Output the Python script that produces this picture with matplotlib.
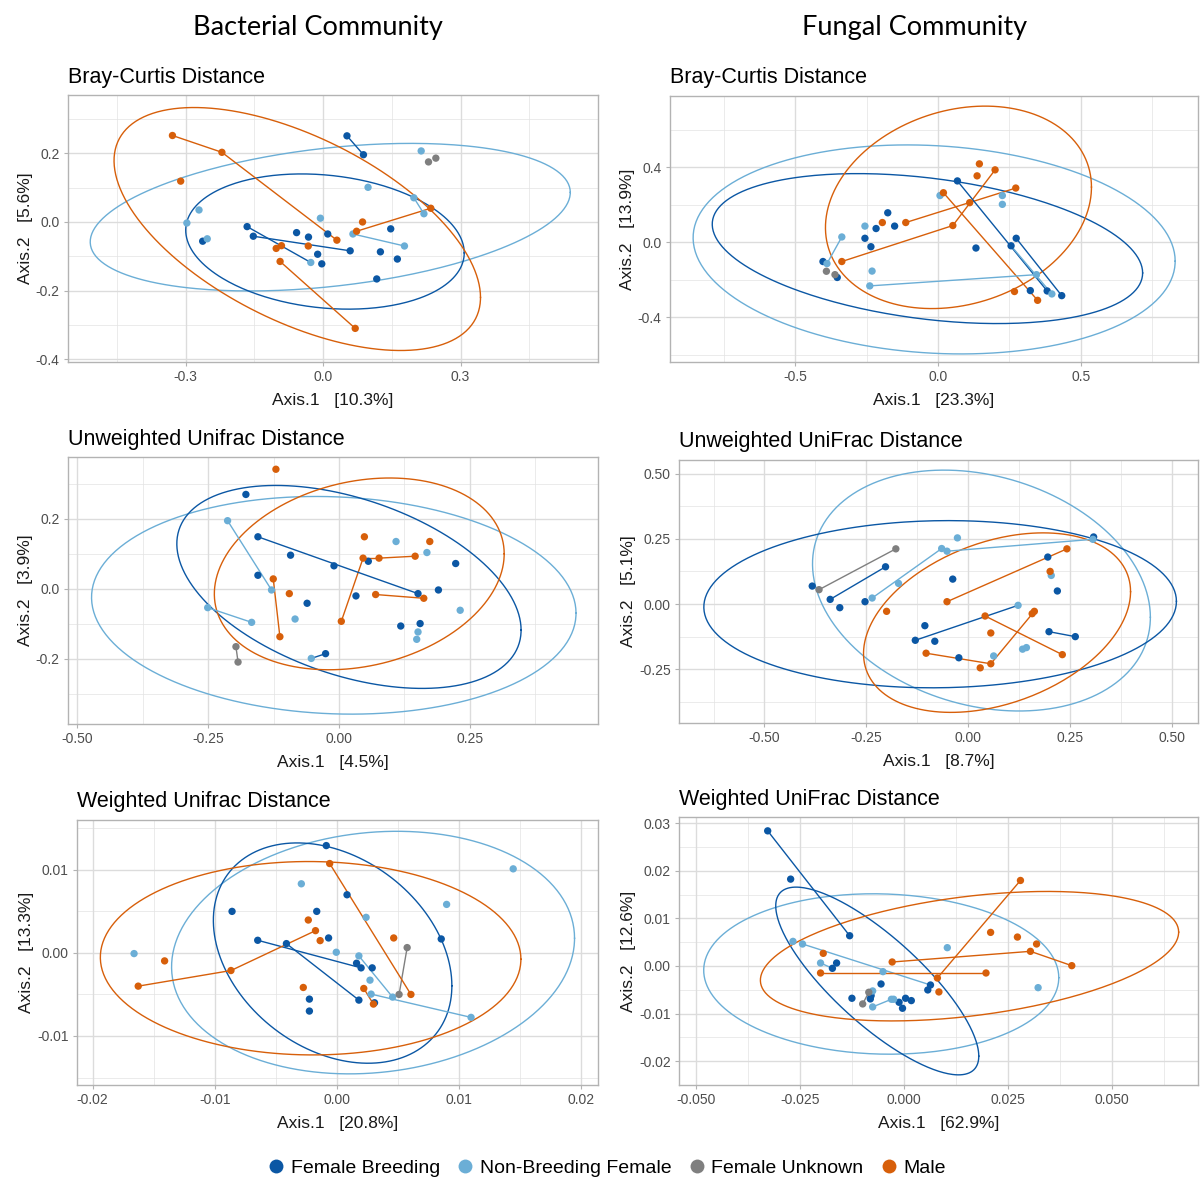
import numpy as np
import matplotlib
matplotlib.use("Agg")
import matplotlib.pyplot as plt
from matplotlib.lines import Line2D

plt.rcParams['font.family'] = ['Liberation Sans', 'DejaVu Sans']

# 颜色
colors = {"FB": "#0b57a4", "NB": "#6baed6", "FU": "#7f7f7f", "M": "#d75f0a"}
legend_labels = ["Female Breeding", "Non-Breeding Female", "Female Unknown", "Male"]

# ---------------- Bacterial / Bray-Curtis ----------------
bac_bray_fb = [(0.052, 0.251), (0.088, 0.196), (0.1475, -0.020), (0.010, -0.035), (-0.058, -0.031),
               (-0.032, -0.044), (-0.166, -0.0135), (-0.1525, -0.0415), (0.059, -0.084), (-0.012, -0.094),
               (-0.003, -0.122), (0.125, -0.087), (0.162, -0.108), (0.117, -0.166), (-0.263, -0.056)]
bac_bray_nb = [(0.214, 0.207), (0.098, 0.101), (0.198, 0.0705), (0.22, 0.024), (-0.006, 0.011),
               (-0.271, 0.035), (-0.2975, -0.003), (-0.253, -0.049), (0.065, -0.035), (0.1775, -0.070),
               (-0.027, -0.118)]
bac_bray_fu = [(0.23, 0.175), (0.246, 0.186)]
bac_bray_m = [(-0.329, 0.252), (-0.221, 0.203), (-0.311, 0.119), (0.086, 0.0), (0.073, -0.027),
              (0.235, 0.040), (0.030, -0.053), (-0.0325, -0.070), (-0.091, -0.069), (-0.1025, -0.077),
              (-0.094, -0.115), (0.070, -0.310)]
bac_bray_seg = [("M", 0, "M", 1, "M"), ("M", 1, "M", 6, "M"), ("M", 10, "M", 11, "M"), ("M", 4, "M", 5, "M"),
                ("M", 9, "M", 8, "M"), ("FB", 0, "FB", 1, "FB"), ("FB", 7, "FB", 8, "FB"),
                ("FB", 6, "NB", 10, "FB"), ("NB", 8, "NB", 9, "NB"), ("NB", 2, "NB", 3, "NB")]
# 椭圆: 组, 中心x, 中心y, 半宽, 半高, 相关系数
bac_bray_ell = [("NB", 0.0155, 0.014, 0.524, 0.215, 0.335), ("FB", 0.004, -0.057, 0.304, 0.197, -0.168),
                ("M", -0.0565, -0.0205, 0.400, 0.354, -0.563)]

# ---------------- Fungal / Bray-Curtis ----------------
fun_bray_fb = [(0.068, 0.326), (-0.176, 0.156), (-0.152, 0.085), (-0.217, 0.072), (-0.256, 0.020),
               (-0.235, -0.025), (0.133, -0.032), (0.256, -0.020), (0.274, 0.020), (-0.403, -0.104),
               (-0.353, -0.189), (0.3235, -0.259), (0.3825, -0.261), (0.4335, -0.286)]
fun_bray_nb = [(0.007, 0.248), (0.2255, 0.248), (0.2255, 0.201), (-0.256, 0.085), (-0.337, 0.027),
               (-0.389, -0.115), (-0.231, -0.155), (-0.239, -0.234), (0.399, -0.277), (0.345, -0.174)]
fun_bray_fu = [(-0.391, -0.156), (-0.361, -0.174)]
fun_bray_m = [(0.145, 0.417), (0.200, 0.385), (0.137, 0.353), (0.2725, 0.288), (0.019, 0.263),
              (0.111, 0.210), (0.052, 0.088), (-0.195, 0.104), (-0.113, 0.104), (-0.337, -0.104),
              (0.268, -0.264), (0.349, -0.311)]
fun_bray_seg = [("M", 9, "M", 6, "M"), ("M", 6, "M", 1, "M"), ("M", 8, "M", 3, "M"), ("M", 4, "M", 11, "M"),
                ("FB", 0, "FB", 12, "FB"), ("FB", 7, "NB", 8, "NB"), ("FB", 8, "FB", 13, "FB"),
                ("NB", 4, "NB", 5, "NB"), ("NB", 7, "NB", 9, "NB")]
fun_bray_ell = [("NB", -0.0135, -0.0395, 0.8445, 0.5575, -0.112), ("FB", -0.037, -0.035, 0.754, 0.400, -0.325),
                ("M", 0.0717, 0.185, 0.466, 0.540, 0.20)]

# ---------------- Bacterial / Unweighted UniFrac ----------------
bac_unw_fb = [(-0.178, 0.270), (-0.155, 0.149), (-0.0926, 0.0964), (-0.0096, 0.066), (0.056, 0.079),
              (0.223, 0.0726), (-0.155, 0.039), (0.190, -0.003), (0.151, -0.0134), (0.0324, -0.020),
              (-0.061, -0.041), (0.118, -0.106), (0.155, -0.099), (-0.0257, -0.185)]
bac_unw_nb = [(-0.213, 0.195), (0.109, 0.1355), (0.168, 0.104), (-0.129, -0.003), (-0.251, -0.0535),
              (-0.167, -0.0955), (-0.084, -0.086), (0.2316, -0.061), (0.151, -0.123), (0.1485, -0.144),
              (-0.053, -0.1986)]
bac_unw_fu = [(-0.197, -0.165), (-0.193, -0.209)]
bac_unw_m = [(-0.1206, 0.342), (0.0485, 0.149), (0.1735, 0.1355), (0.046, 0.088), (0.0765, 0.088),
             (0.1455, 0.0935), (-0.1257, 0.0286), (-0.095, -0.0134), (0.070, -0.016), (0.162, -0.0267),
             (0.0044, -0.0926), (-0.113, -0.1365)]
bac_unw_seg = [("M", 6, "M", 11, "M"), ("M", 10, "M", 3, "M"), ("M", 3, "M", 4, "M"), ("M", 4, "M", 5, "M"),
               ("M", 8, "M", 9, "M"), ("FB", 1, "FB", 8, "FB"), ("FB", 13, "NB", 10, "FB"),
               ("NB", 0, "NB", 3, "NB"), ("NB", 4, "NB", 5, "NB"), ("FU", 0, "FU", 1, "FU")]
bac_unw_ell = [("NB", -0.010, -0.0468, 0.463, 0.311, -0.073), ("FB", 0.019, 0.0057, 0.329, 0.290, -0.425),
               ("M", 0.0387, 0.043, 0.277, 0.274, 0.209)]

# ---------------- Fungal / Unweighted UniFrac ----------------
fun_unw_fb = [(0.3086, 0.257), (0.196, 0.180), (0.2195, 0.050), (-0.0375, 0.0955), (-0.2026, 0.1427),
              (-0.3827, 0.0688), (-0.3386, 0.0178), (-0.315, -0.014), (-0.253, 0.009), (-0.106, -0.083),
              (-0.1295, -0.139), (-0.0816, -0.1427), (-0.0225, -0.206), (0.199, -0.106), (0.2636, -0.125)]
fun_unw_nb = [(-0.026, 0.2535), (-0.0647, 0.2127), (-0.0516, 0.2025), (-0.1707, 0.079), (-0.2355, 0.023),
              (0.2045, 0.1096), (0.123, -0.005), (0.134, -0.173), (0.1435, -0.167), (0.063, -0.199),
              (0.3068, 0.248)]
fun_unw_fu = [(-0.1773, 0.2115), (-0.366, 0.055)]
fun_unw_m = [(0.243, 0.2115), (-0.0516, 0.009), (0.2017, 0.125), (-0.200, -0.028), (0.163, -0.028),
             (0.1576, -0.037), (0.042, -0.0459), (0.056, -0.111), (0.2317, -0.194), (-0.103, -0.1885),
             (0.056, -0.229), (0.030, -0.2446)]
fun_unw_seg = [("FB", 6, "FB", 4, "FB"), ("FB", 10, "NB", 6, "FB"), ("FB", 13, "FB", 14, "FB"),
               ("NB", 4, "NB", 1, "NB"), ("NB", 2, "NB", 10, "NB"), ("FU", 0, "FU", 1, "FU"),
               ("M", 1, "M", 0, "M"), ("M", 6, "M", 8, "M"), ("M", 9, "M", 10, "M"), ("M", 10, "M", 4, "M")]
fun_unw_ell = [("NB", 0.033, 0.0516, 0.415, 0.4616, -0.222), ("FB", -0.0685, -0.0007, 0.5805, 0.3204, 0.034),
               ("M", 0.0713, -0.0713, 0.328, 0.344, 0.345)]

# ---------------- Bacterial / Weighted UniFrac ----------------
bac_w_fb = [(-0.00088, 0.01292), (0.00082, 0.0070), (-0.00859, 0.0050), (-0.00166, 0.0050), (-0.00069, 0.0018),
            (0.00853, 0.00168), (-0.00649, 0.00152), (-0.00414, 0.00112), (0.0016, -0.00124), (0.00197, -0.0018),
            (0.00288, -0.0018), (0.00179, -0.00568), (0.00307, -0.006), (-0.00226, -0.00556), (-0.00226, -0.0070)]
bac_w_nb = [(0.01442, 0.01012), (-0.00292, 0.00832), (0.00897, 0.00584), (0.00238, 0.00428), (-0.00006, 0.00008),
            (-0.01661, -0.00008), (0.00179, -0.00036), (0.0027, -0.00328), (0.00279, -0.00496), (0.00455, -0.00532),
            (0.01097, -0.00776)]
bac_w_fu = [(0.00574, 0.00064), (0.00508, -0.005)]
bac_w_m = [(-0.0006, 0.01076), (-0.00235, 0.00396), (-0.00176, 0.00268), (-0.00138, 0.00148), (0.00464, 0.0018),
           (-0.01411, -0.00096), (-0.00868, -0.00212), (-0.01627, -0.004), (-0.00276, -0.00416), (0.00219, -0.00428),
           (0.00298, -0.00616), (0.00605, -0.005)]
bac_w_seg = [("FB", 6, "FB", 9, "FB"), ("FB", 7, "FB", 11, "FB"), ("NB", 6, "NB", 9, "NB"), ("NB", 8, "NB", 10, "NB"),
             ("FU", 0, "FU", 1, "FU"), ("M", 0, "M", 11, "M"), ("M", 7, "M", 6, "M"), ("M", 6, "M", 2, "M"),
             ("M", 9, "M", 10, "M")]
bac_w_ell = [("NB", 0.00295, 0.00004, 0.01649, 0.0146, 0.118), ("FB", -0.00036, -0.00002, 0.00976, 0.01326, -0.297),
             ("M", -0.00216, -0.00064, 0.01721, 0.01164, -0.01)]

# ---------------- Fungal / Weighted UniFrac ----------------
fun_w_fb = [(-0.03284, 0.02839), (-0.02731, 0.01825), (-0.0131, 0.00636), (-0.01624, 0.00063), (-0.01725, -0.00049),
            (-0.00554, -0.00378), (0.00637, -0.00399), (0.00572, -0.00503), (-0.01255, -0.00678), (-0.00793, -0.00622),
            (-0.00812, -0.00692), (-0.0012, -0.00762), (0.00037, -0.00678), (0.00175, -0.00727), (-0.00037, -0.00888)]
fun_w_nb = [(0.01042, 0.00385), (-0.02675, 0.00517), (-0.02445, 0.00462), (-0.02011, 0.00063), (-0.00507, -0.00119),
            (0.03229, -0.00455), (-0.00756, -0.00524), (-0.00304, -0.00699), (-0.00756, -0.0086), (-0.0025, -0.00699)]
fun_w_fu = [(-0.00849, -0.00552), (-0.00996, -0.00797)]
fun_w_m = [(0.02804, 0.01797), (0.02085, 0.00706), (0.02731, 0.00608), (0.03192, 0.00462), (0.03044, 0.00308),
           (0.0404, 0.00007), (-0.01946, 0.00266), (-0.00286, 0.00084), (-0.02011, -0.00147), (0.01974, -0.00147),
           (0.00803, -0.00252), (0.0084, -0.00545)]
fun_w_seg = [("FB", 0, "FB", 2, "FB"), ("NB", 2, "FB", 6, "NB"), ("NB", 3, "FB", 4, "NB"), ("NB", 8, "NB", 7, "NB"),
             ("FU", 0, "FU", 1, "FU"), ("M", 10, "M", 0, "M"), ("M", 7, "M", 4, "M"), ("M", 4, "M", 5, "M"),
             ("M", 8, "M", 9, "M")]
fun_w_ell = [("NB", -0.00549, -0.00168, 0.04276, 0.01685, -0.046), ("FB", -0.00645, -0.00315, 0.02445, 0.01972, -0.80),
             ("M", 0.01577, 0.00206, 0.05037, 0.0136, 0.372)]

# 坐标轴刻度
bac_bray_xt = [-0.3, 0.0, 0.3]; bac_bray_xl = ["-0.3", "0.0", "0.3"]
bac_bray_yt = [-0.4, -0.2, 0.0, 0.2]; bac_bray_yl = ["-0.4", "-0.2", "0.0", "0.2"]
fun_bray_xt = [-0.5, 0.0, 0.5]; fun_bray_xl = ["-0.5", "0.0", "0.5"]
fun_bray_yt = [-0.4, 0.0, 0.4]; fun_bray_yl = ["-0.4", "0.0", "0.4"]
bac_unw_xt = [-0.5, -0.25, 0.0, 0.25]; bac_unw_xl = ["-0.50", "-0.25", "0.00", "0.25"]
bac_unw_yt = [-0.2, 0.0, 0.2]; bac_unw_yl = ["-0.2", "0.0", "0.2"]
fun_unw_xt = [-0.5, -0.25, 0.0, 0.25, 0.5]; fun_unw_xl = ["-0.50", "-0.25", "0.00", "0.25", "0.50"]
fun_unw_yt = [-0.25, 0.0, 0.25, 0.5]; fun_unw_yl = ["-0.25", "0.00", "0.25", "0.50"]
bac_w_xt = [-0.02, -0.01, 0.0, 0.01, 0.02]; bac_w_xl = ["-0.02", "-0.01", "0.00", "0.01", "0.02"]
bac_w_yt = [-0.01, 0.0, 0.01]; bac_w_yl = ["-0.01", "0.00", "0.01"]
fun_w_xt = [-0.05, -0.025, 0.0, 0.025, 0.05]; fun_w_xl = ["-0.050", "-0.025", "0.000", "0.025", "0.050"]
fun_w_yt = [-0.02, -0.01, 0.0, 0.01, 0.02, 0.03]; fun_w_yl = ["-0.02", "-0.01", "0.00", "0.01", "0.02", "0.03"]

W, H = 1200, 1178
fig = plt.figure(figsize=(W / 100, H / 100), dpi=100)


def panel(box, pts, segs, ells, xlim, ylim, xt, xl, yt, yl, title, xlab, ylab):
    l, t, r, b = box
    ax = fig.add_axes([l / W, 1 - b / H, (r - l) / W, (b - t) / H])
    ax.set_xlim(xlim)
    ax.set_ylim(ylim)
    # 网格 (主 + 次)
    dx = xt[1] - xt[0]
    dy = yt[1] - yt[0]
    xminor = np.arange(xt[0] - 2.5 * dx, xt[-1] + 2.5 * dx, dx)
    yminor = np.arange(yt[0] - 2.5 * dy, yt[-1] + 2.5 * dy, dy)
    for v in xminor:
        ax.axvline(v, color="#e3e3e3", lw=0.5, zorder=0)
    for v in yminor:
        ax.axhline(v, color="#e3e3e3", lw=0.5, zorder=0)
    for v in xt:
        ax.axvline(v, color="#dcdcdc", lw=1.0, zorder=0)
    for v in yt:
        ax.axhline(v, color="#dcdcdc", lw=1.0, zorder=0)
    # 椭圆
    tt = np.linspace(0, 2 * np.pi, 300)
    for g, cx, cy, a, bb, rho in ells:
        ex = cx + a * np.cos(tt)
        ey = cy + bb * (rho * np.cos(tt) + np.sqrt(1 - rho ** 2) * np.sin(tt))
        ax.plot(ex, ey, color=colors[g], lw=1.0, zorder=2)
    # 连线
    for g1, i1, g2, i2, gc in segs:
        p1 = pts[g1][i1]
        p2 = pts[g2][i2]
        ax.plot([p1[0], p2[0]], [p1[1], p2[1]], color=colors[gc], lw=1.0, zorder=3)
    # 点
    for g in ["FB", "NB", "FU", "M"]:
        arr = np.array(pts[g])
        ax.scatter(arr[:, 0], arr[:, 1], s=28, color=colors[g], edgecolors="none", zorder=4)
    ax.set_xticks(xt)
    ax.set_xticklabels(xl)
    ax.set_yticks(yt)
    ax.set_yticklabels(yl)
    ax.tick_params(axis="both", length=3, width=0.8, color="#b3b3b3", labelsize=10,
                   labelcolor="#4d4d4d", pad=3)
    for s in ax.spines.values():
        s.set_color("#b3b3b3")
        s.set_linewidth(1.0)
    ax.set_xlabel(xlab, fontsize=12.5, color="#1a1a1a", labelpad=6)
    ax.set_ylabel(ylab, fontsize=12.5, color="#1a1a1a", labelpad=2)
    ax.set_title(title, loc="left", fontsize=15.5, color="#000000", pad=9)
    return ax


panel((68, 95, 598, 362),
      {"FB": bac_bray_fb, "NB": bac_bray_nb, "FU": bac_bray_fu, "M": bac_bray_m},
      bac_bray_seg, bac_bray_ell, (-0.557, 0.600), (-0.408, 0.370),
      bac_bray_xt, bac_bray_xl, bac_bray_yt, bac_bray_yl,
      "Bray-Curtis Distance", "Axis.1   [10.3%]", "Axis.2   [5.6%]")
panel((670, 96, 1198, 362),
      {"FB": fun_bray_fb, "NB": fun_bray_nb, "FU": fun_bray_fu, "M": fun_bray_m},
      fun_bray_seg, fun_bray_ell, (-0.939, 0.911), (-0.64, 0.779),
      fun_bray_xt, fun_bray_xl, fun_bray_yt, fun_bray_yl,
      "Bray-Curtis Distance", "Axis.1   [23.3%]", "Axis.2   [13.9%]")
panel((68, 457, 598, 724),
      {"FB": bac_unw_fb, "NB": bac_unw_nb, "FU": bac_unw_fu, "M": bac_unw_m},
      bac_unw_seg, bac_unw_ell, (-0.518, 0.495), (-0.386, 0.377),
      bac_unw_xt, bac_unw_xl, bac_unw_yt, bac_unw_yl,
      "Unweighted Unifrac Distance", "Axis.1   [4.5%]", "Axis.2   [3.9%]")
panel((679, 460, 1198, 723),
      {"FB": fun_unw_fb, "NB": fun_unw_nb, "FU": fun_unw_fu, "M": fun_unw_m},
      fun_unw_seg, fun_unw_ell, (-0.710, 0.565), (-0.456, 0.552),
      fun_unw_xt, fun_unw_xl, fun_unw_yt, fun_unw_yl,
      "Unweighted UniFrac Distance", "Axis.1   [8.7%]", "Axis.2   [5.1%]")
panel((77, 820, 598, 1085),
      {"FB": bac_w_fb, "NB": bac_w_nb, "FU": bac_w_fu, "M": bac_w_m},
      bac_w_seg, bac_w_ell, (-0.02128, 0.02136), (-0.0159, 0.016),
      bac_w_xt, bac_w_xl, bac_w_yt, bac_w_yl,
      "Weighted Unifrac Distance", "Axis.1   [20.8%]", "Axis.2   [13.3%]")
panel((679, 817, 1198, 1085),
      {"FB": fun_w_fb, "NB": fun_w_nb, "FU": fun_w_fu, "M": fun_w_m},
      fun_w_seg, fun_w_ell, (-0.0542, 0.0708), (-0.025, 0.0313),
      fun_w_xt, fun_w_xl, fun_w_yt, fun_w_yl,
      "Weighted UniFrac Distance", "Axis.1   [62.9%]", "Axis.2   [12.6%]")

# 列标题
fig.text(318 / W, 1 - 27 / H, "Bacterial Community", ha="center", va="center", fontsize=19.5,
         family=["Lato", "DejaVu Sans"])
fig.text(915 / W, 1 - 27 / H, "Fungal Community", ha="center", va="center", fontsize=19.5,
         family=["Lato", "DejaVu Sans"])

# 图例
handles = [Line2D([], [], marker="o", linestyle="none", markersize=10, color=colors[g], markeredgewidth=0)
           for g in ["FB", "NB", "FU", "M"]]
fig.legend(handles, legend_labels, loc="center", bbox_to_anchor=(605 / W, 1 - 1168 / H), ncol=4,
           frameon=False, fontsize=14, handletextpad=0.15, columnspacing=0.7, handlelength=1.2)

fig.savefig("out.png", dpi=100)
